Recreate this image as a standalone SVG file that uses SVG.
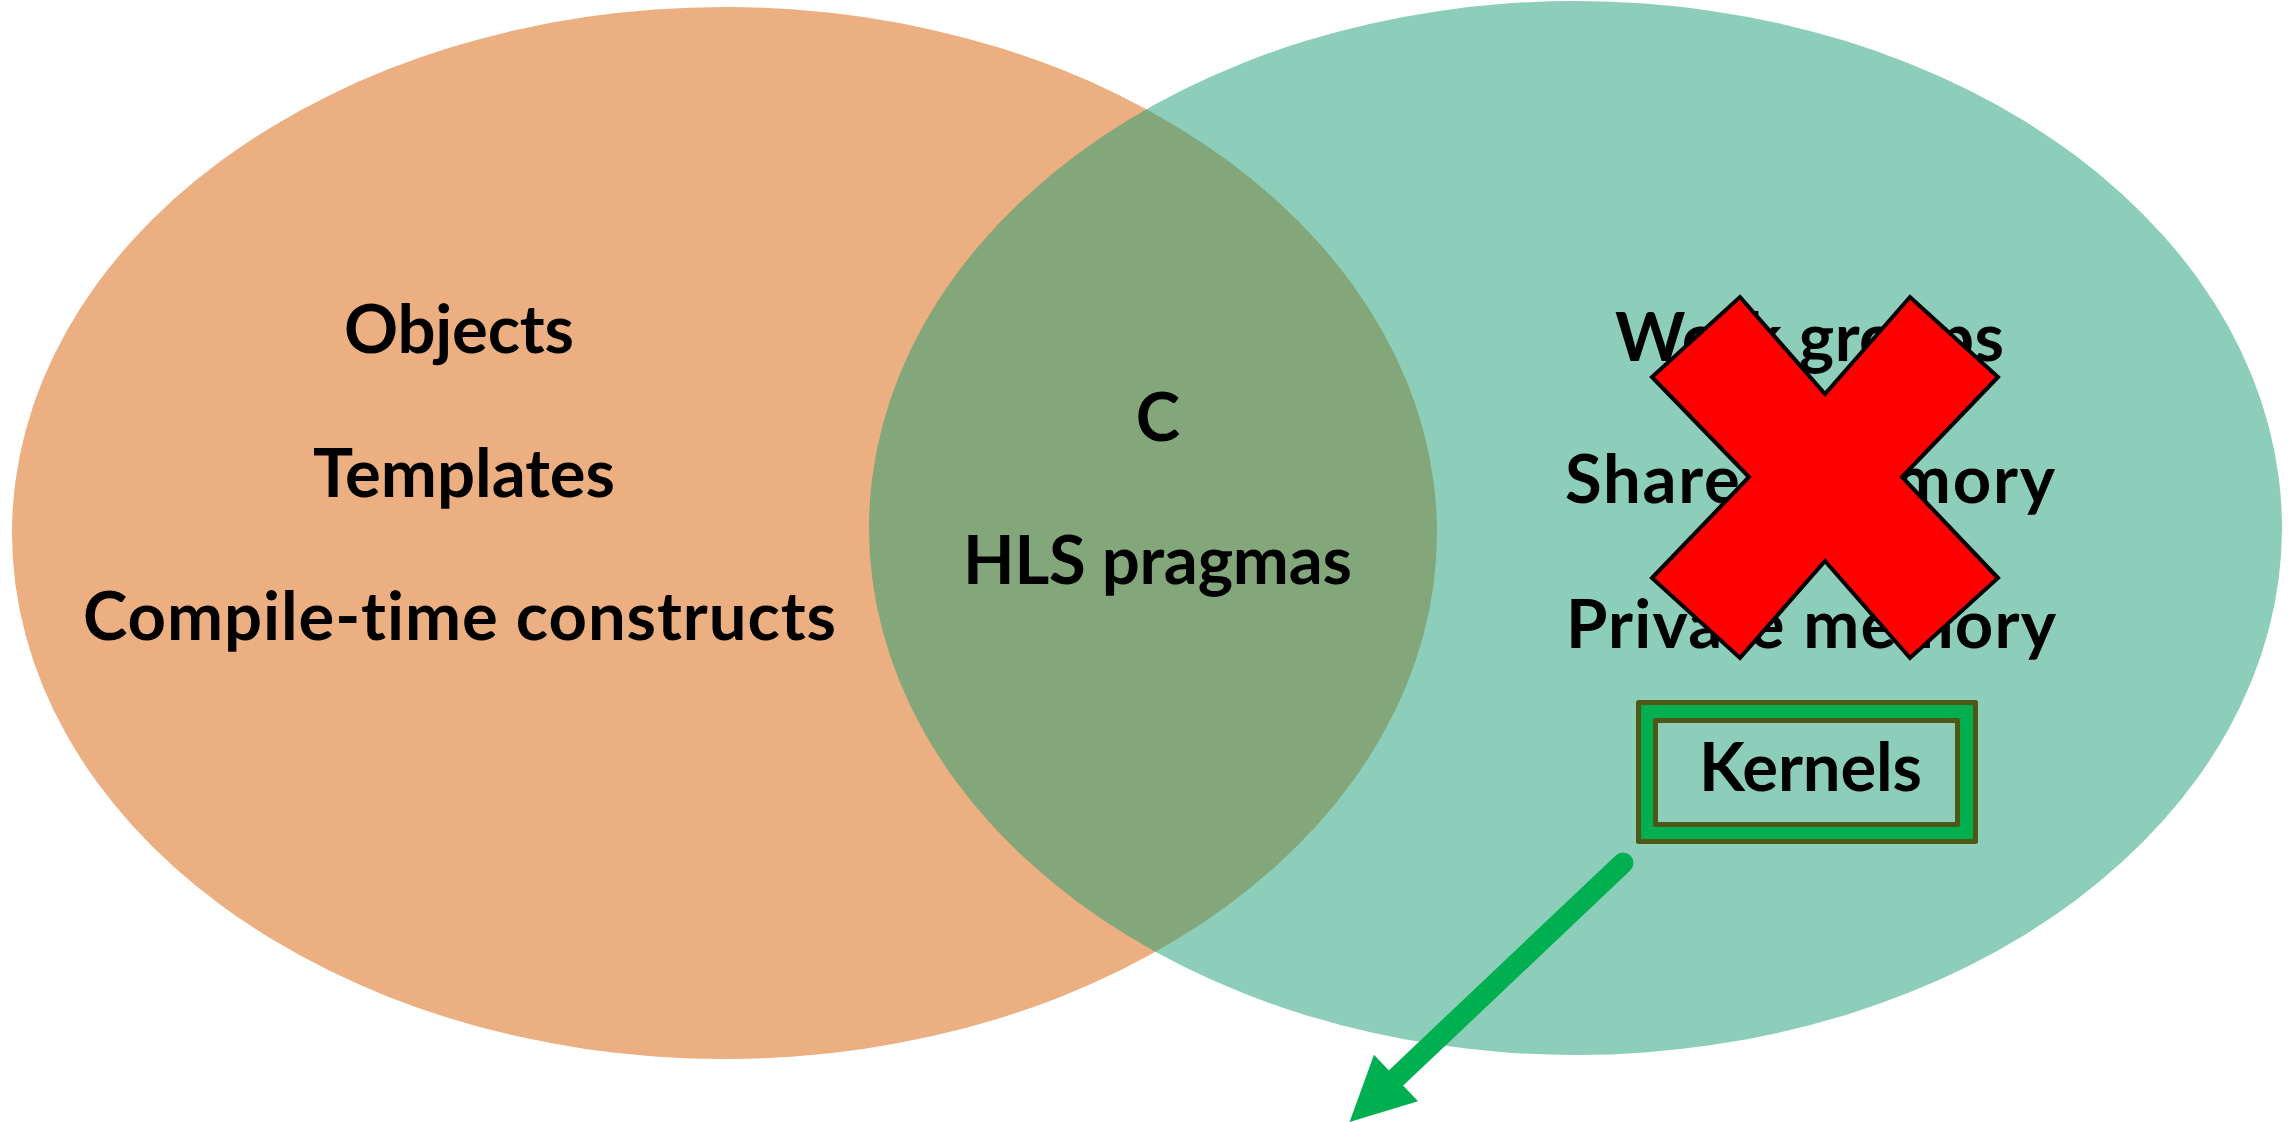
<svg xmlns="http://www.w3.org/2000/svg" width="2293" height="1122" viewBox="0 0 2293 1122">
  <style>
    .lbl { font-family: Lato, "Open Sans", "Liberation Sans", sans-serif; font-weight: bold; font-size: 67px; fill: #000000; text-anchor: middle; font-variant-ligatures: none; font-feature-settings: "liga" 0; }
    .olive { stroke: #4F5717; stroke-width: 5; stroke-linejoin: round; }
  </style>
  <defs>
    <marker id="arrowhead" markerUnits="userSpaceOnUse" markerWidth="70" markerHeight="70" viewBox="0 -35 70 70" refX="0" refY="0" orient="auto" overflow="visible">
      <path d="M0,-32 L64,0 L0,32 Z" fill="#00B050"/>
    </marker>
  </defs>
  <rect width="2293" height="1122" fill="#FFFFFF"/>

  <g id="set-cpp">
    <ellipse cx="724.5" cy="533" rx="712.5" ry="526" fill="#EBAF81"/>
  </g>
  <g id="set-opencl">
    <ellipse cx="1575.5" cy="528" rx="706.5" ry="527" fill="rgb(27,157,117)" fill-opacity="0.5"/>
  </g>

  <g id="cpp-only">
    <text class="lbl" x="459" y="353" textLength="230" lengthAdjust="spacing">Objects</text>
    <text class="lbl" x="464" y="497" textLength="302" lengthAdjust="spacing">Templates</text>
    <text class="lbl" x="459.5" y="640" textLength="753" lengthAdjust="spacing">Compile-time constructs</text>
  </g>

  <g id="common">
    <text class="lbl" x="1158" y="441">C</text>
    <text class="lbl" x="1157.5" y="584" textLength="389" lengthAdjust="spacing">HLS pragmas</text>
  </g>

  <g id="opencl-only">
    <text class="lbl" x="1809.5" y="361" textLength="389" lengthAdjust="spacing">Work groups</text>
    <text class="lbl" x="1810" y="503" textLength="490" lengthAdjust="spacing">Shared memory</text>
    <text class="lbl" x="1811" y="648" textLength="490" lengthAdjust="spacing">Private memory</text>
  </g>

  <g id="cross-mark">
    <polygon points="1740,297 1825,394 1910,297 1998,377 1902,477 1998,578 1910,658 1825,561 1740,658 1652,578 1749,477 1652,377" fill="#FF0000" stroke="#000000" stroke-width="4" stroke-linejoin="miter"/>
  </g>

  <g id="kernels">
    <path class="olive" d="M1638.5,702.5 H1975.5 V841.5 H1638.5 Z M1655.5,720.5 H1957.5 V824.5 H1655.5 Z" fill="#00B050" fill-rule="evenodd"/>
    <text class="lbl" x="1810.5" y="791" textLength="223" lengthAdjust="spacing">Kernels</text>
  </g>

  <g id="connectors">
    <path d="M1623,863 L1396,1078" fill="none" stroke="#00B050" stroke-width="21" stroke-linecap="round" marker-end="url(#arrowhead)"/>
  </g>
</svg>
